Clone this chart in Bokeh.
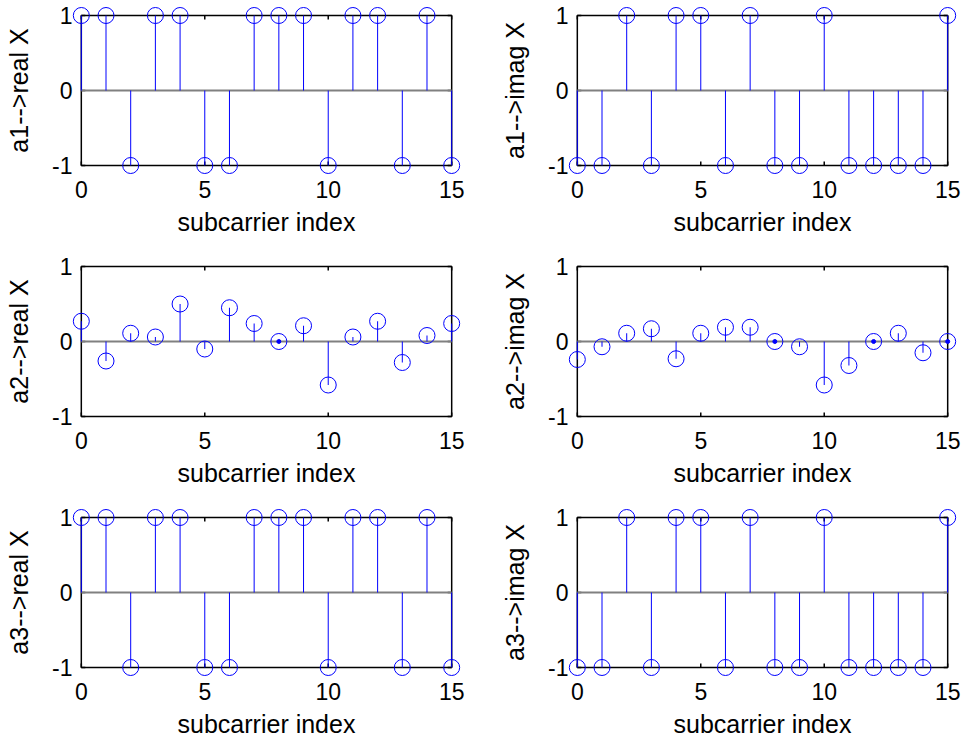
from bokeh.plotting import figure
from bokeh.layouts import column, row
from bokeh.models import FixedTicker, BoxAnnotation, Range1d
from bokeh.embed import file_html
from bokeh.resources import INLINE

idx = list(range(16))
a1_real = [1, 1, -1, 1, 1, -1, -1, 1, 1, 1, -1, 1, 1, -1, 1, -1]
a1_imag = [-1, -1, 1, -1, 1, 1, -1, 1, -1, -1, 1, -1, -1, -1, -1, 1]
a2_real = [0.27, -0.26, 0.11, 0.06, 0.50, -0.10, 0.45, 0.24, 0.0, 0.21, -0.58, 0.06, 0.27, -0.28, 0.08, 0.24]
a2_imag = [-0.24, -0.07, 0.11, 0.17, -0.23, 0.11, 0.19, 0.19, 0.0, -0.07, -0.58, -0.32, 0.0, 0.11, -0.15, 0.0]
a3_real = [1, 1, -1, 1, 1, -1, -1, 1, 1, 1, -1, 1, 1, -1, 1, -1]
a3_imag = [-1, -1, 1, -1, 1, 1, -1, 1, -1, -1, 1, -1, -1, -1, -1, 1]

x_ticks = [0, 5, 10, 15]
y_ticks = [-1, 0, 1]
y_tick_text = {-1: "-1", 0: "0", 1: "1"}
x_label = "subcarrier index"
y_labels = [["a1-->real X", "a1-->imag X"],
            ["a2-->real X", "a2-->imag X"],
            ["a3-->real X", "a3-->imag X"]]
series = [[a1_real, a1_imag], [a2_real, a2_imag], [a3_real, a3_imag]]

FONT = "Liberation Sans"
BLUE = "#0000FF"
XLIM = (0, 15)
YLIM = (-1, 1)
PADX = 0.6
PADY = 0.2
FRAME_W = 400
FRAME_H = 180
TICK_PX = 4


def make(vals, ylab, col, rowi):
    left = 66 if col == 0 else 81
    right = 15 if col == 0 else 1
    top = 0
    bottom = 71 if rowi < 2 else 61
    xspan = (XLIM[1] - XLIM[0]) + 2 * PADX
    yspan = (YLIM[1] - YLIM[0]) + 2 * PADY
    tx = TICK_PX * xspan / FRAME_W
    ty = TICK_PX * yspan / FRAME_H
    p = figure(output_backend="svg", toolbar_location=None,
               frame_width=FRAME_W, frame_height=FRAME_H,
               x_range=Range1d(XLIM[0] - PADX, XLIM[1] + PADX),
               y_range=Range1d(YLIM[0] - PADY, YLIM[1] + PADY),
               min_border_left=left, min_border_right=right,
               min_border_top=top, min_border_bottom=bottom,
               background_fill_color="white", border_fill_color="white")
    p.outline_line_color = None
    p.grid.visible = False
    box = BoxAnnotation(left=XLIM[0], right=XLIM[1], bottom=YLIM[0], top=YLIM[1],
                        fill_alpha=0, line_color="black", line_alpha=1.0,
                        line_width=1.5, level="underlay")
    p.add_layout(box)
    # inward tick marks on all four sides of the axes box
    n = len(x_ticks)
    p.segment(x0=x_ticks, x1=x_ticks, y0=[YLIM[0]] * n, y1=[YLIM[0] + ty] * n,
              line_color="black", line_width=1.5, level="underlay")
    p.segment(x0=x_ticks, x1=x_ticks, y0=[YLIM[1]] * n, y1=[YLIM[1] - ty] * n,
              line_color="black", line_width=1.5, level="underlay")
    m = len(y_ticks)
    p.segment(x0=[XLIM[0]] * m, x1=[XLIM[0] + tx] * m, y0=y_ticks, y1=y_ticks,
              line_color="black", line_width=1.5, level="underlay")
    p.segment(x0=[XLIM[1]] * m, x1=[XLIM[1] - tx] * m, y0=y_ticks, y1=y_ticks,
              line_color="black", line_width=1.5, level="underlay")
    # baseline
    p.segment(x0=[XLIM[0]], x1=[XLIM[1]], y0=[0], y1=[0],
              line_color="#808080", line_width=2)
    p.segment(x0=idx, y0=[0] * len(idx), x1=idx, y1=vals,
              line_color=BLUE, line_width=1)
    p.scatter(idx, vals, marker="circle", size=16, fill_color=None,
              line_color=BLUE, line_width=1)
    zx = [i for i, v in zip(idx, vals) if v == 0]
    zy = [v for v in vals if v == 0]
    if zx:
        p.scatter(zx, zy, marker="circle", size=4, fill_color=BLUE,
                  line_color=BLUE)
    for ax in (p.xaxis[0], p.yaxis[0]):
        ax.axis_line_color = None
        ax.major_tick_line_color = None
        ax.minor_tick_line_color = None
        ax.major_tick_in = 0
        ax.major_tick_out = 0
        ax.minor_tick_in = 0
        ax.minor_tick_out = 0
        ax.major_label_text_font = FONT
        ax.major_label_text_font_size = "23px"
        ax.major_label_text_color = "black"
        ax.axis_label_text_font = FONT
        ax.axis_label_text_font_size = "25px"
        ax.axis_label_text_font_style = "normal"
        ax.axis_label_text_color = "black"
    p.xaxis[0].ticker = FixedTicker(ticks=x_ticks)
    p.yaxis[0].ticker = FixedTicker(ticks=y_ticks)
    p.yaxis[0].major_label_overrides = y_tick_text
    p.xaxis[0].axis_label = x_label
    p.yaxis[0].axis_label = ylab
    p.xaxis[0].major_label_standoff = 0
    p.yaxis[0].major_label_standoff = -6
    p.xaxis[0].axis_label_standoff = 7
    p.yaxis[0].axis_label_standoff = 16
    return p


rows = []
for r in range(3):
    figs = [make(series[r][c], y_labels[r][c], c, r) for c in range(2)]
    rows.append(row(*figs))
layout = column(*rows)

open("out.html", "w").write(file_html(layout, INLINE))
